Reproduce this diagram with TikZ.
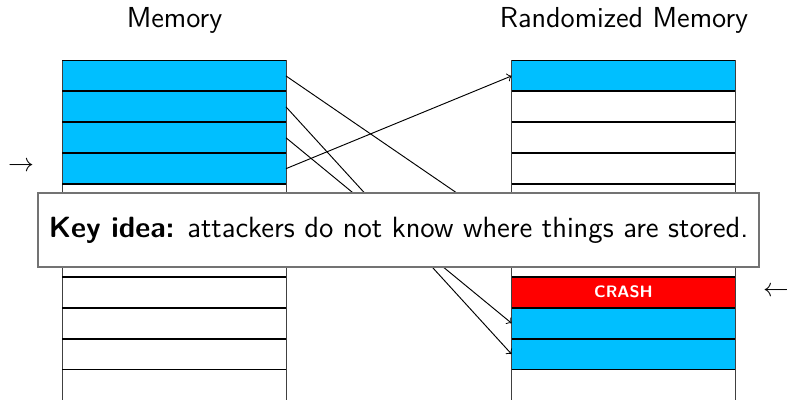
\documentclass[tikz,border=0pt]{standalone}
\usepackage{fontspec}
\definecolor{memcyan}{RGB}{0,191,255}
\definecolor{crashred}{RGB}{255,0,0}
\begin{document}
\begin{tikzpicture}[x=0.4237pt,y=-0.4237pt,
  font=\sffamily\fontsize{11}{13}\selectfont,
  cell/.style={draw=black!75, line width=0.4pt, minimum width=94.9pt, minimum height=13.09pt, inner sep=0pt, outer sep=0pt, fill=white},
  used/.style={cell, fill=memcyan},
  crashcell/.style={cell, fill=crashred, text=white, font=\sffamily\bfseries\fontsize{7}{8}\selectfont},
  sep/.style={line width=0.8pt, black},
  link/.style={->, line width=0.4pt, black},
  keybox/.style={draw=black!55, line width=0.6pt, fill=white, minimum width=305.5pt, minimum height=31.4pt, inner sep=0pt, font=\sffamily\fontsize{12.4}{15}\selectfont}
]
\clip (0,0) rectangle (787,399);
% titles
\node (t1) at (174.5,20) {\fontsize{12.25}{14}\selectfont Memory};
\node (t2) at (624,20) {\fontsize{12.25}{14}\selectfont Randomized Memory};
% left column
\foreach \i in {1,...,11}{
  \pgfmathsetmacro{\yc}{60.5+30.9*(\i-0.5)}
  \ifnum\i<5
    \node[used] (L\i) at (174,\yc) {};
  \else
    \node[cell] (L\i) at (174,\yc) {};
  \fi
}
% right column
\foreach \i in {1,...,11}{
  \pgfmathsetmacro{\yc}{60.5+30.9*(\i-0.5)}
  \node[cell] (R\i) at (623.5,\yc) {};
}
\node[used] (R1) at (623.5,{60.5+30.9*0.5}) {};
\node[used] (R6) at (623.5,{60.5+30.9*5.5}) {};
\node[crashcell] (R8) at (623.5,{60.5+30.9*7.5}) {CRASH};
\node[used] (R9) at (623.5,{60.5+30.9*8.5}) {};
\node[used] (R10) at (623.5,{60.5+30.9*9.5}) {};
% separators
\foreach \i in {1,...,11}{
  \draw[sep] (L\i.north west) -- (L\i.north east);
  \draw[sep] (R\i.north west) -- (R\i.north east);
}
% pointers
\node (pin) at (21,167) {$\rightarrow$};
\node (pcrash) at (776,292) {$\leftarrow$};
% links
\draw[link] (L4.east) -- (R1.west);
\draw[link] (L1.east) -- (R6.west);
\draw[link] (L2.east) -- (R10.west);
\draw[link] (L3.east) -- (R9.west);
% key idea box
\node[keybox] (key) at (398.5,230) {\textbf{Key idea:} attackers do not know where things are stored.};
\end{tikzpicture}
\end{document}
